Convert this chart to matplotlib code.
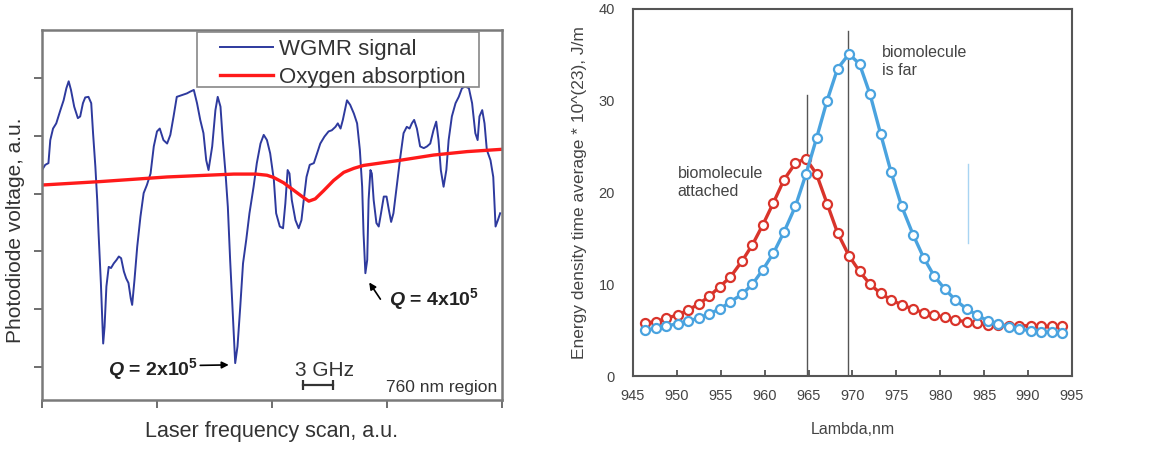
import matplotlib
matplotlib.use("Agg")
import matplotlib.pyplot as plt
from matplotlib.patches import Rectangle

plt.rcParams['font.family'] = ['Liberation Sans', 'DejaVu Sans']
plt.rcParams['mathtext.fontset'] = 'custom'
plt.rcParams['mathtext.rm'] = 'Liberation Sans'
plt.rcParams['mathtext.bf'] = 'Liberation Sans:bold'
plt.rcParams['mathtext.bfit'] = 'Liberation Sans:italic:bold'

# --- left panel: WGMR transmission scan (arbitrary units) ---
scan = [0.0, 0.7, 1.4, 1.8, 2.4, 3.1, 4.0, 4.7, 5.3, 5.8, 6.3, 7.0, 7.8, 8.3, 8.9, 9.4,
        10.1, 10.7, 11.1, 11.6, 12.0, 12.3, 12.8, 13.3, 13.6, 14.0, 14.5, 15.0, 15.6, 16.2,
        16.7, 17.2, 17.8, 18.3, 18.8, 19.3, 19.6, 20.1, 20.7, 21.4, 22.1, 22.8, 23.6, 24.3,
        25.0, 25.6, 26.4, 27.2, 27.9, 28.6, 29.3, 30.4, 31.5, 32.2, 33.0, 33.7, 34.4, 35.1,
        35.7, 36.2, 37.0, 37.7, 38.2, 38.8, 39.3, 39.9, 40.4, 40.9, 41.5, 42.0, 42.5, 43.1,
        43.7, 44.4, 45.1, 46.0, 46.7, 47.5, 48.2, 48.9, 49.6, 50.4, 50.9, 51.7, 52.4, 52.9,
        53.4, 53.8, 54.3, 55.1, 55.8, 56.4, 56.9, 57.5, 58.2, 59.1, 59.8, 60.5, 61.4, 62.3,
        63.0, 63.8, 64.3, 64.9, 65.4, 66.3, 67.0, 67.8, 68.5, 69.1, 69.6, 69.9, 70.3, 70.7,
        71.0, 71.4, 71.7, 72.1, 72.7, 73.2, 73.7, 74.3, 74.9, 75.4, 75.9, 76.4, 77.2, 77.9,
        78.6, 79.3, 79.9, 80.4, 80.9, 81.5, 82.2, 83.0, 83.7, 84.4, 85.1, 85.7, 86.2, 86.7,
        87.3, 87.9, 88.4, 89.1, 89.9, 90.6, 91.3, 92.0, 92.8, 93.5, 94.2, 94.7, 95.1, 95.7,
        96.2, 96.7, 97.5, 98.1, 98.6, 99.1, 99.6]
wgmr = [3.41, 3.50, 3.53, 3.93, 4.13, 4.22, 4.45, 4.62, 4.83, 4.95, 4.80, 4.51, 4.31, 4.34, 4.57, 4.67,
        4.68, 4.57, 4.05, 3.47, 2.89, 2.31, 1.45, 0.40, 0.69, 1.39, 1.73, 1.71, 1.79, 1.85,
        1.91, 1.88, 1.65, 1.53, 1.45, 1.18, 1.07, 1.50, 2.08, 2.60, 3.01, 3.15, 3.35, 3.82,
        4.08, 4.13, 3.93, 3.87, 4.02, 4.34, 4.68, 4.71, 4.74, 4.77, 4.80, 4.57, 4.28, 4.05,
        3.58, 3.41, 3.82, 4.45, 4.68, 4.51, 3.93, 3.35, 2.77, 1.85, 0.87, 0.06, 0.35, 1.04,
        1.79, 2.20, 2.66, 3.12, 3.53, 3.87, 4.02, 3.93, 3.70, 3.24, 2.66, 2.43, 2.40, 2.83,
        3.41, 3.35, 2.89, 2.54, 2.40, 2.54, 2.89, 3.29, 3.50, 3.53, 3.70, 3.87, 3.99, 4.08,
        4.10, 4.16, 4.22, 4.13, 4.28, 4.62, 4.54, 4.39, 4.22, 3.76, 3.12, 2.31, 1.62, 1.85,
        2.89, 3.41, 3.35, 2.89, 2.49, 2.43, 2.66, 2.95, 2.95, 2.72, 2.51, 2.66, 3.18, 3.64,
        4.05, 4.16, 4.13, 4.22, 4.28, 4.13, 3.82, 3.79, 3.82, 3.87, 4.10, 4.25, 3.93, 3.41,
        3.12, 3.41, 3.93, 4.34, 4.57, 4.68, 4.83, 4.86, 4.83, 4.57, 4.05, 3.93, 4.34, 4.45,
        4.22, 3.76, 3.58, 3.29, 2.43, 2.54, 2.66]

oxy_scan = [0.0, 12.7, 27.2, 41.7, 46.5, 48.9, 50.4, 52.5, 54.7, 56.9, 58.0, 59.4,
            61.2, 63.4, 65.6, 67.8, 69.9, 74.3, 77.9, 85.1, 92.4, 100.0]
oxygen = [3.15, 3.21, 3.29, 3.34, 3.34, 3.32, 3.28, 3.19, 3.06, 2.93, 2.87, 2.91,
          3.05, 3.23, 3.37, 3.44, 3.49, 3.54, 3.58, 3.67, 3.73, 3.77]

# --- right panel: simulated resonances ---
lam = [946.4, 947.6, 948.8, 950.1, 951.3, 952.5, 953.7, 954.9, 956.1, 957.4,
       958.6, 959.8, 961.0, 962.2, 963.5, 964.7, 965.9, 967.1, 968.3, 969.6,
       970.8, 972.0, 973.2, 974.4, 975.6, 976.9, 978.1, 979.3, 980.5, 981.7,
       983.0, 984.2, 985.4, 986.6, 987.8, 989.0, 990.3, 991.5, 992.7, 993.9]
far = [5.0, 5.2, 5.45, 5.7, 6.0, 6.3, 6.8, 7.3, 8.1, 8.9,
       10.0, 11.6, 13.4, 15.7, 18.5, 22.0, 25.9, 30.0, 33.5, 35.1,
       34.0, 30.7, 26.4, 22.2, 18.5, 15.4, 12.9, 10.9, 9.5, 8.3,
       7.3, 6.65, 6.0, 5.7, 5.3, 5.1, 4.95, 4.85, 4.75, 4.7]
attached = [5.8, 5.9, 6.3, 6.65, 7.2, 7.85, 8.7, 9.75, 10.8, 12.5,
            14.3, 16.5, 18.9, 21.4, 23.2, 23.7, 22.0, 18.8, 15.6, 13.1,
            11.4, 10.0, 9.0, 8.3, 7.75, 7.3, 6.9, 6.65, 6.4, 6.1,
            5.9, 5.75, 5.6, 5.55, 5.5, 5.5, 5.45, 5.45, 5.4, 5.4]
lam_ticks = [945, 950, 955, 960, 965, 970, 975, 980, 985, 990, 995]
energy_ticks = [0, 10, 20, 30, 40]

fig = plt.figure(figsize=(11.5, 4.53), dpi=100)

# left plot
ax1 = fig.add_axes([42 / 1150, 53 / 453, 460 / 1150, 370 / 453])
ax1.plot(scan, wgmr, color='#2e3a9e', lw=1.4, label='WGMR signal')
ax1.plot(oxy_scan, oxygen, color='#ff1a1a', lw=2.4, label='Oxygen absorption')
ax1.set_xlim(0, 100)
ax1.set_ylim(-0.58, 5.84)
ax1.set_xticks([0, 25, 50, 75, 100])
ax1.set_yticks([0, 1, 2, 3, 4, 5])
ax1.tick_params(labelbottom=False, labelleft=False, length=6, width=1.2, color='#555555')
for sp in ax1.spines.values():
    sp.set_color('#7a7a7a')
    sp.set_linewidth(1.8)
ax1.set_xlabel('Laser frequency scan, a.u.', fontsize=15.5, color='#333333', labelpad=9)
ax1.set_ylabel('Photodiode voltage, a.u.', fontsize=15, color='#333333')
ax1.yaxis.set_label_coords(-0.036, 0.46)

# legend box drawn separately so its padding can be set freely
ax1.add_patch(Rectangle((0.337, 0.846), 0.613, 0.149, transform=ax1.transAxes,
                        facecolor='white', edgecolor='#888888', lw=1.2, zorder=3))
leg = ax1.legend(loc='upper left', bbox_to_anchor=(0.387, 0.976), fontsize=16,
                 frameon=False, borderpad=0, labelspacing=0.33,
                 handlelength=2.4, handletextpad=0.25, borderaxespad=0)
leg.set_zorder(4)
for t in leg.get_texts():
    t.set_color('#333333')

ax1.annotate('', xy=(41.2, 0.03), xytext=(33.8, 0.02),
             arrowprops=dict(arrowstyle='-|>', color='black', lw=1.2, mutation_scale=10))
ax1.text(24.2, -0.06, r'$\mathbfit{Q}$ = 2x10$^{\mathbf{5}}$', fontsize=14,
         fontweight='bold', ha='center', va='center', color='#222222')
ax1.annotate('', xy=(70.8, 1.5), xytext=(73.9, 1.13),
             arrowprops=dict(arrowstyle='-|>', color='black', lw=1.2, mutation_scale=10))
ax1.text(75.4, 1.16, r'$\mathbfit{Q}$ = 4x10$^{\mathbf{5}}$', fontsize=14,
         fontweight='bold', ha='left', va='center', color='#222222')
ax1.text(61.4, -0.06, '3 GHz', fontsize=15, ha='center', va='center', color='#333333')
ax1.plot([56.7, 63.3], [-0.32, -0.32], color='#333333', lw=1.6, marker='|',
         markersize=7, markeredgewidth=1.6)
ax1.text(98.9, -0.36, '760 nm region', fontsize=12.5, ha='right', va='center', color='#333333')

# right plot
ax2 = fig.add_axes([633 / 1150, 77 / 453, 439 / 1150, 367 / 453])
ax2.axvline(964.8, ymax=30.6 / 40, color='#555555', lw=1.0)
ax2.axvline(969.5, ymax=37.6 / 40, color='#555555', lw=1.0)
ax2.plot([983.2, 983.2], [14.5, 23.1], color='#a8d4f2', lw=1.0)
ax2.plot(lam, attached, color='#d9342b', lw=2.4, marker='o', markersize=6.5,
         markerfacecolor='white', markeredgewidth=1.6)
ax2.plot(lam, far, color='#4aa3df', lw=2.4, marker='o', markersize=6.5,
         markerfacecolor='white', markeredgewidth=1.6)
ax2.set_xlim(945, 995)
ax2.set_ylim(0, 40)
ax2.set_xticks(lam_ticks)
ax2.set_yticks(energy_ticks)
ax2.tick_params(axis='x', direction='in', length=4, width=1.2, pad=9,
                labelsize=10.5, labelcolor='#444444', color='#444444')
ax2.tick_params(axis='y', length=0, pad=13, labelsize=10.5, labelcolor='#444444')
for sp in ax2.spines.values():
    sp.set_color('#555555')
    sp.set_linewidth(1.5)
ax2.set_xlabel('Lambda,nm', fontsize=11.5, color='#444444', labelpad=14)
ax2.set_ylabel('Energy density time average * 10^(23), J/m', fontsize=12.5,
               color='#444444')
ax2.yaxis.set_label_coords(-0.105, 0.5)
ax2.text(973.4, 36.1, 'biomolecule\nis far', fontsize=11.5, color='#444444',
         ha='left', va='top', linespacing=1.25)
ax2.text(950.1, 22.9, 'biomolecule\nattached', fontsize=11.5, color='#444444',
         ha='left', va='top', linespacing=1.25)

fig.savefig('out.png', dpi=100)
